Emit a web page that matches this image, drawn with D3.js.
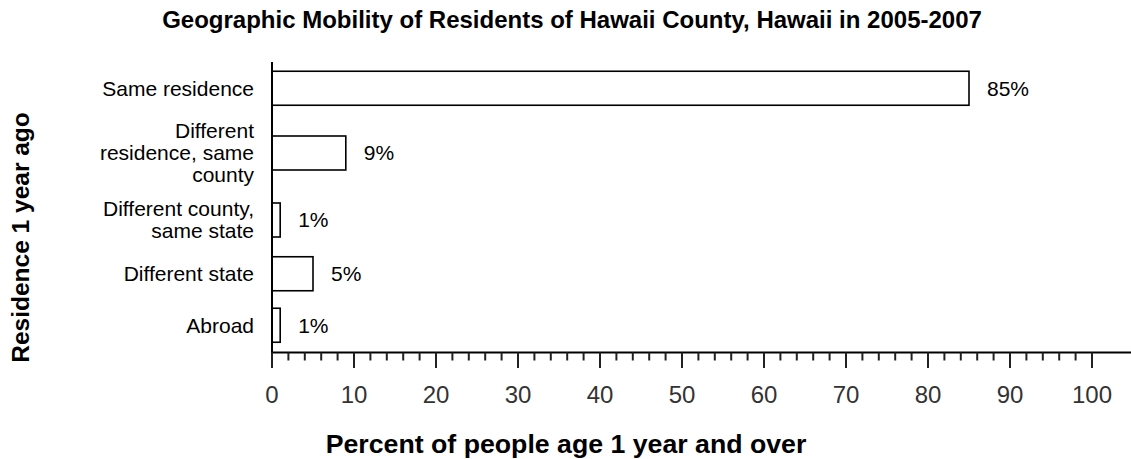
<!DOCTYPE html>
<html><head><meta charset="utf-8">
<script src="https://cdn.jsdelivr.net/npm/d3@7"></script>
<style>body{margin:0;background:#fff}svg{display:block}</style>
</head><body>
<svg id="c" width="1131" height="459"></svg>
<script>
const categories = ["Same residence", "Different\nresidence, same\ncounty", "Different county,\nsame state", "Different state", "Abroad"];
const values = [85, 9, 1, 5, 1];
const valueLabels = ["85%", "9%", "1%", "5%", "1%"];
const tickValues = [0,10,20,30,40,50,60,70,80,90,100];
const title = "Geographic Mobility of Residents of Hawaii County, Hawaii in 2005-2007";
const xTitle = "Percent of people age 1 year and over";
const yTitle = "Residence 1 year ago";

const FONT = "Liberation Sans, Arial, Helvetica, sans-serif";
const svg = d3.select("#c");
const x0 = 272, axisY = 352.5;
const x = d3.scaleLinear().domain([0,100]).range([x0, 1092]);

// band sizes depend on number of label lines
const bandSize = d3.scaleLinear().domain([1,2,3]).range([51.5,56,78]);
const lines = categories.map(c => c.split("\n").length);
const sizes = lines.map(l => bandSize(l));
const total = d3.sum(sizes);
const yLin = d3.scaleLinear().domain([0,total]).range([62.5, 62.5+total]);
let acc = 0;
const centers = sizes.map(s => { const c = yLin(acc + s/2); acc += s; return c; });
const barH = 34;

svg.append("text").attr("x",572).attr("y",28).attr("text-anchor","middle")
  .attr("font-family",FONT).attr("font-weight","bold").attr("font-size",24)
  .text(title);

// bars
svg.selectAll("rect.bar").data(values).join("rect").attr("class","bar")
  .attr("x", x(0)).attr("y",(d,i)=>centers[i]-barH/2)
  .attr("width", d=>x(d)-x(0)).attr("height", barH)
  .attr("fill","#fff").attr("stroke","#000").attr("stroke-width",1.6);

// value labels
svg.selectAll("text.val").data(values).join("text").attr("class","val")
  .attr("x",d=>x(d)+18).attr("y",(d,i)=>centers[i]).attr("dy","0.35em")
  .attr("font-family",FONT).attr("font-size",21)
  .text((d,i)=>valueLabels[i]);

// category labels
categories.forEach((c,i)=>{
  const ls = c.split("\n");
  const lh = 22;
  const t = svg.append("text").attr("text-anchor","end")
    .attr("font-family",FONT).attr("font-size",21);
  ls.forEach((l,j)=>{
    t.append("tspan").attr("x",254).attr("y",centers[i] + (j-(ls.length-1)/2)*lh).attr("dy","0.35em").text(l);
  });
});

// y axis line
svg.append("line").attr("x1",x0).attr("x2",x0).attr("y1",62).attr("y2",axisY).attr("stroke","#000").attr("stroke-width",2);
// x axis line
svg.append("line").attr("x1",x0-1).attr("x2",1131).attr("y1",axisY).attr("y2",axisY).attr("stroke","#000").attr("stroke-width",2);

// ticks
const minor = d3.range(0,101,2);
svg.selectAll("line.tick").data(minor).join("line").attr("class","tick")
  .attr("x1",d=>x(d)).attr("x2",d=>x(d)).attr("y1",axisY)
  .attr("y2",d=>d%10===0?axisY+15.5:axisY+8).attr("stroke","#222").attr("stroke-width",2);

svg.selectAll("text.tl").data(tickValues).join("text").attr("class","tl")
  .attr("x",d=>x(d)).attr("y",402.5).attr("text-anchor","middle")
  .attr("font-family",FONT).attr("font-size",24)
  .attr("fill","#333").text(d=>d);

svg.append("text").attr("x",566).attr("y",453).attr("text-anchor","middle")
  .attr("font-family",FONT).attr("font-weight","bold").attr("font-size",26.7)
  .text(xTitle);

svg.append("text").attr("transform","translate(29,237.5) rotate(-90)").attr("text-anchor","middle")
  .attr("font-family",FONT).attr("font-weight","bold").attr("font-size",24.5)
  .text(yTitle);
</script>
</body></html>
